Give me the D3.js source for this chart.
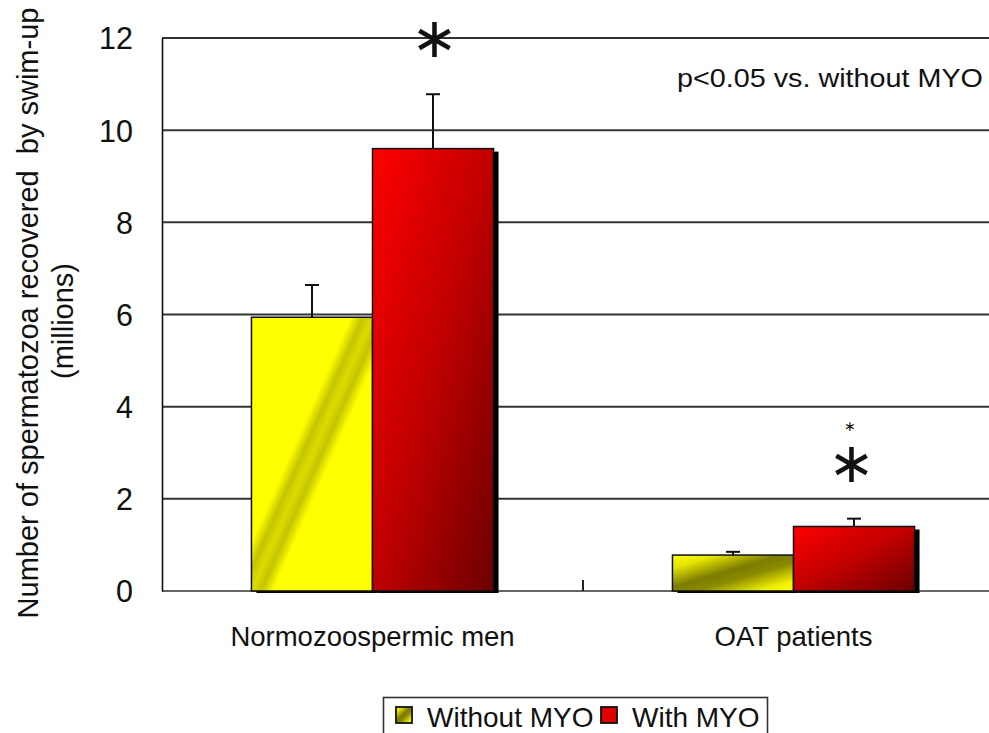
<!DOCTYPE html>
<html>
<head>
<meta charset="utf-8">
<script src="https://cdn.jsdelivr.net/npm/d3@7"></script>
<style>
  html, body { margin: 0; padding: 0; background: #fff; }
  svg { display: block; }
  text { font-family: "Liberation Sans", Arial, sans-serif; fill: #111; }
</style>
</head>
<body>
<svg id="chart" width="989" height="733"></svg>
<script>
// Groups, series and values (millions of spermatozoa)
const groups = ["Normozoospermic men", "OAT patients"];
const seriesNames = ["Without MYO", "With MYO"];
const means = [
  [5.94, 9.60],   // Normozoospermic men
  [0.78, 1.40]    // OAT patients
];
const errTops = [
  [6.64, 10.78],
  [0.85, 1.57]
];
const yTicks = [0, 2, 4, 6, 8, 10, 12];
const significant = [true, true];     // With MYO vs Without MYO
const noteText = "p<0.05 vs. without MYO";
const yTitle1 = "Number of spermatozoa recovered\u00a0 by swim-up";
const yTitle2 = "(millions)";

const svg = d3.select("#chart");
const plotLeft = 162, plotTop = 38, plotBottom = 591, groupW = 421;

const y = d3.scaleLinear().domain([0, 12]).range([plotBottom, plotTop]);
const x0 = d3.scaleBand().domain(groups).range([plotLeft, plotLeft + groupW * groups.length]);
const x1 = d3.scaleBand().domain(seriesNames)
  .range([groupW * 0.2125, groupW * 0.7875]);

// Gradients
const defs = svg.append("defs");
function grad(id, stops) {
  const g = defs.append("linearGradient").attr("id", id)
    .attr("x1", 0).attr("y1", 0).attr("x2", 1).attr("y2", 1);
  stops.forEach(([o, c]) => g.append("stop").attr("offset", o).attr("stop-color", c));
}
grad("yel0", [[0, "#ffff00"], [0.41, "#ffff00"], [0.46, "#c4c400"], [0.5, "#dcdc00"], [0.54, "#c4c400"], [0.59, "#ffff00"], [1, "#ffff00"]]);
grad("yel1", [[0, "#ffff00"], [0.18, "#e6e600"], [0.45, "#7c7c00"], [0.6, "#8a8a00"], [0.86, "#f0f000"], [1, "#ffff00"]]);
grad("red", [[0, "#ff0000"], [0.5, "#c00000"], [1, "#6c0000"]]);

// Gridlines
const grid = svg.append("g");
grid.selectAll("line").data(yTicks).join("line")
  .attr("x1", plotLeft).attr("x2", 989)
  .attr("y1", d => y(d)).attr("y2", d => y(d))
  .attr("stroke", d => d === 0 ? "#666" : "#333")
  .attr("stroke-width", 2);

// Y axis
const yAxis = svg.append("g").attr("transform", `translate(${plotLeft},0)`)
  .call(d3.axisLeft(y).tickValues(yTicks).tickSize(0).tickPadding(29));
yAxis.select(".domain").attr("stroke", "#111").attr("stroke-width", 1.6);
yAxis.selectAll("text")
  .attr("font-size", 30.5).attr("font-family", "Liberation Sans, Arial, sans-serif")
  .attr("fill", "#111").attr("dy", "0.36em");

// X axis (group separators and labels)
const xAxis = svg.append("g").attr("transform", `translate(0,${plotBottom})`)
  .call(d3.axisBottom(x0).tickSize(0).tickPadding(35));
xAxis.select(".domain").remove();
xAxis.selectAll("text")
  .attr("font-size", 27.5).attr("font-family", "Liberation Sans, Arial, sans-serif")
  .attr("fill", "#111");
svg.append("g").selectAll("line")
  .data(groups.slice(1).map(g => x0(g)))
  .join("line")
  .attr("x1", d => d).attr("x2", d => d)
  .attr("y1", plotBottom - 11).attr("y2", plotBottom)
  .attr("stroke", "#222").attr("stroke-width", 2);

// Bars
const rows = [];
groups.forEach((g, gi) => seriesNames.forEach((s, si) => {
  rows.push({ g, gi, s, si, v: means[gi][si], e: errTops[gi][si] });
}));
const fillOf = d => d.si === 0 ? `url(#yel${d.gi})` : "url(#red)";

const barG = svg.append("g");
// drop shadows
barG.selectAll("rect.shadow").data(rows).join("rect").attr("class", "shadow")
  .attr("x", d => x0(d.g) + x1(d.s) + 5)
  .attr("y", d => y(d.v) + 3)
  .attr("width", x1.bandwidth())
  .attr("height", d => y(0) - y(d.v) - 1)
  .attr("fill", "#000");
barG.selectAll("rect.bar").data(rows).join("rect").attr("class", "bar")
  .attr("x", d => x0(d.g) + x1(d.s))
  .attr("y", d => y(d.v))
  .attr("width", x1.bandwidth())
  .attr("height", d => y(0) - y(d.v))
  .attr("fill", fillOf)
  .attr("stroke", "#111").attr("stroke-width", 1.5);

// Error bars (upper only)
const errG = svg.append("g").attr("stroke", "#111").attr("stroke-width", 2);
errG.selectAll("line.stem").data(rows).join("line").attr("class", "stem")
  .attr("x1", d => x0(d.g) + x1(d.s) + x1.bandwidth() / 2)
  .attr("x2", d => x0(d.g) + x1(d.s) + x1.bandwidth() / 2)
  .attr("y1", d => y(d.v)).attr("y2", d => y(d.e));
errG.selectAll("line.cap").data(rows).join("line").attr("class", "cap")
  .attr("x1", d => x0(d.g) + x1(d.s) + x1.bandwidth() / 2 - 7)
  .attr("x2", d => x0(d.g) + x1(d.s) + x1.bandwidth() / 2 + 7)
  .attr("y1", d => y(d.e)).attr("y2", d => y(d.e));

// Significance asterisks above the With MYO bars
const starSize = 56;
const starX = [x0(groups[0]) + x1(seriesNames[1]) + x1.bandwidth() / 2 + 1,
               x0(groups[1]) + x1(seriesNames[1]) + x1.bandwidth() / 2 - 3];
const starY = [41, 466];   // glyph centres
svg.append("g").selectAll("text").data(groups.filter((g, i) => significant[i]))
  .join("text")
  .attr("x", (d, i) => starX[i]).attr("y", (d, i) => starY[i] + starSize * 0.28)
  .attr("text-anchor", "middle")
  .attr("font-size", starSize)
  .attr("font-family", "DejaVu Sans, sans-serif")
  .attr("fill", "#000")
  .text("\u2217");
svg.append("text").attr("x", starX[1] - 1).attr("y", 431)
  .attr("text-anchor", "middle").attr("font-size", 14)
  .attr("font-family", "DejaVu Sans, sans-serif")
  .attr("fill", "#3a3a6a").text("\u2217");

// Note
svg.append("text")
  .attr("transform", "translate(677,87) scale(1.15,1)")
  .attr("font-size", 25).text(noteText);

// Y axis title
const yt = svg.append("g").attr("transform", "translate(0,313) rotate(-90)");
yt.append("text").attr("x", 0).attr("y", 38).attr("text-anchor", "middle")
  .attr("font-size", 29).attr("fill", "#222").text(yTitle1);
yt.append("text").attr("x", -8).attr("y", 73).attr("text-anchor", "middle")
  .attr("font-size", 29).attr("fill", "#222").text(yTitle2);

// Legend
const lg = svg.append("g");
lg.append("rect").attr("x", 383.5).attr("y", 697.5).attr("width", 384).attr("height", 50)
  .attr("fill", "#fff").attr("stroke", "#333").attr("stroke-width", 1.6);
const legX = [396, 601];
const legItems = lg.selectAll("g.item").data(seriesNames).join("g").attr("class", "item")
  .attr("transform", (d, i) => `translate(${legX[i]},707)`);
legItems.append("rect").attr("width", 16).attr("height", 16)
  .attr("fill", (d, i) => i === 0 ? "url(#yel1)" : "#e00000")
  .attr("stroke", "#111").attr("stroke-width", 1.8);
legItems.append("text").attr("x", 31).attr("y", 20)
  .attr("font-size", 28).attr("fill", "#1a1a3a").text(d => d);
</script>
</body>
</html>
